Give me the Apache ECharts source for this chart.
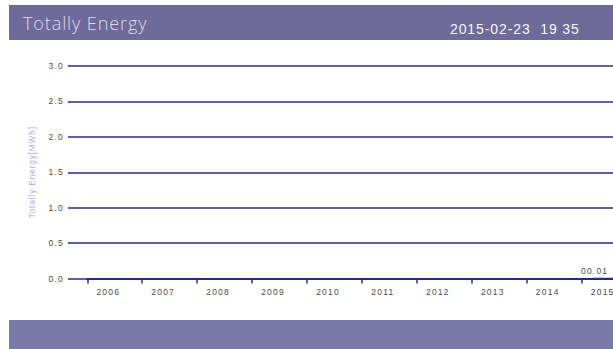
<!DOCTYPE html>
<html>
<head>
<meta charset="utf-8">
<script src="https://cdn.jsdelivr.net/npm/echarts@6/dist/echarts.min.js"></script>
<style>
  html, body { margin: 0; padding: 0; background: #ffffff; }
  #chart { width: 613px; height: 349px; }
  /* spaced-out lettering, picked by font size */
  #chart svg text[style*="8.5px"] { letter-spacing: 1.2px; }
  #chart svg text[style*="8.2px"] { letter-spacing: 0.9px; }
  #chart svg text[style*="18px"] { letter-spacing: 0.9px; }
  #chart svg text[style*="14px"] { letter-spacing: 0.9px; }
</style>
</head>
<body>
<div id="chart"></div>
<script>
// Yearly totals (MWh)
const years = ['2006', '2007', '2008', '2009', '2010', '2011', '2012', '2013', '2014', '2015'];
const energy = [0, 0, 0, 0, 0, 0, 0, 0, 0, 0.01];
const yTicks = { min: 0, max: 3, interval: 0.5 };

const titleText = 'Totally Energy';
const stampText = '2015-02-23  19 35';
const yName = 'Totally Energy[MWh]';

const navy = '#262a8e';
const labelGrey = '#4a4a4a';

const chart = echarts.init(document.getElementById('chart'), null, { renderer: 'svg' });

chart.setOption({
  animation: false,
  backgroundColor: '#ffffff',
  graphic: [
    { type: 'rect', left: 9, top: 5, shape: { width: 604, height: 35 }, style: { fill: '#6e6a9a' }, z: 0 },
    { type: 'rect', left: 9, top: 320, shape: { width: 604, height: 29 }, style: { fill: '#7b7aa6' }, z: 0 },
    { type: 'text', x: 23, y: 23, style: { text: titleText, fill: '#dcdcec', font: '300 18px "Open Sans", "Noto Sans", sans-serif', verticalAlign: 'middle' }, z: 1 },
    { type: 'text', x: 450, y: 29, style: { text: stampText, fill: '#f6f6fa', font: '14px "Liberation Sans", Arial, sans-serif', verticalAlign: 'middle' }, z: 1 }
  ],
  grid: [
    { left: 68, width: 568.6, top: 66, bottom: 70.5, outerBoundsMode: 'none' },
    { left: 87.3, width: 549.3, top: 66, bottom: 70.5, outerBoundsMode: 'none' }
  ],
  xAxis: [
    { type: 'value', gridIndex: 0, show: false, min: 0, max: 1 },
    {
      type: 'category', gridIndex: 1, data: years, boundaryGap: true,
      axisLine: { show: true, lineStyle: { color: navy, width: 2 } },
      axisTick: { show: true, length: 5, lineStyle: { color: navy, width: 1.5 } },
      axisLabel: {
        color: labelGrey, fontSize: 8.5, fontFamily: '"Liberation Sans", Arial, sans-serif',
        margin: 9, padding: [0, 13, 0, 0]
      },
      splitLine: { show: false }
    }
  ],
  yAxis: [
    {
      type: 'value', gridIndex: 0, min: yTicks.min, max: yTicks.max, interval: yTicks.interval,
      name: yName, nameLocation: 'middle', nameGap: 32,
      nameTextStyle: { color: '#aeaddc', fontSize: 8.2, fontFamily: '"Liberation Sans", Arial, sans-serif' },
      axisLine: { show: false },
      axisTick: { show: false },
      axisLabel: {
        color: labelGrey, fontSize: 8.5, fontFamily: '"Liberation Sans", Arial, sans-serif', margin: 4,
        formatter: v => v.toFixed(1)
      },
      splitLine: { show: true, lineStyle: { color: navy, width: 1.5 } }
    },
    { type: 'value', gridIndex: 1, show: false, min: yTicks.min, max: yTicks.max }
  ],
  series: [
    {
      type: 'bar', xAxisIndex: 1, yAxisIndex: 1, data: energy,
      barWidth: '60%',
      itemStyle: { color: navy },
      label: {
        show: true, position: 'top', distance: 2, offset: [-14.5, 0],
        color: labelGrey, fontSize: 8.5, fontFamily: '"Liberation Sans", Arial, sans-serif',
        formatter: p => p.value > 0 ? p.value.toFixed(2).padStart(5, '0') : ''
      }
    }
  ]
});
</script>
</body>
</html>
